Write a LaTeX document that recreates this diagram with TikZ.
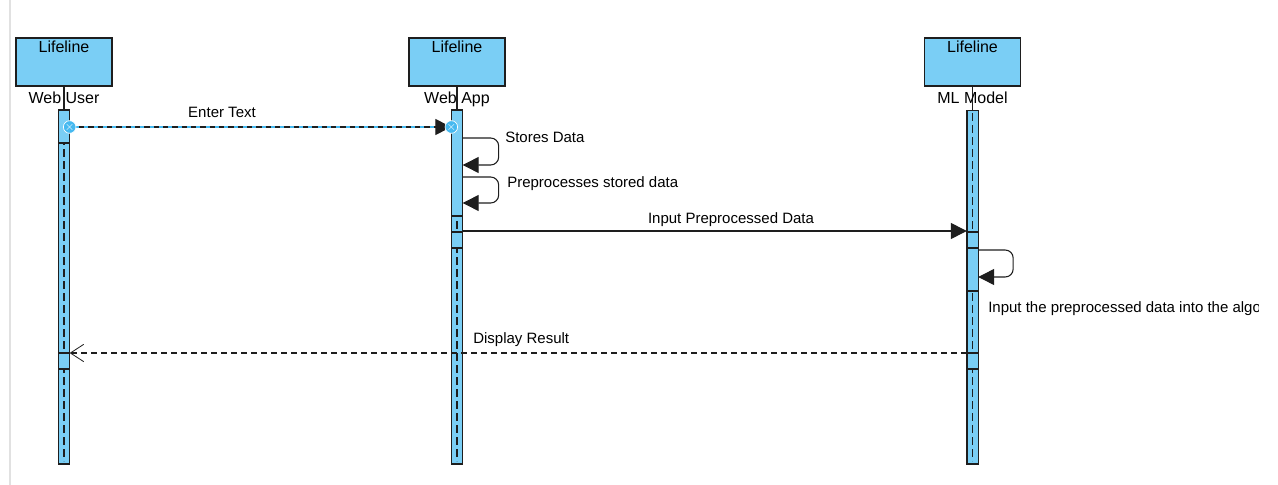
\documentclass[tikz,border=0pt]{standalone}
\usepackage{fontspec}
\setmainfont{Liberation Sans}
\usetikzlibrary{arrows.meta, positioning, calc}
\definecolor{lifeblue}{RGB}{122,206,245}
\definecolor{selblue}{RGB}{70,185,240}
\definecolor{framegray}{RGB}{225,225,225}
\definecolor{linegray}{RGB}{30,30,30}

\begin{document}
\begin{tikzpicture}[
  x=0.75pt, y=-0.75pt,
  head/.style={draw=linegray, fill=lifeblue, line width=1pt,
               minimum width=72pt, minimum height=36pt, inner sep=0pt},
  headtxt/.style={font=\fontsize{12}{14}\selectfont, inner sep=2.5pt},
  bar/.style={draw=linegray, fill=lifeblue, line width=1pt, outer sep=0pt,
              minimum width=8.5pt, minimum height=265pt, inner sep=0pt},
  act/.style={draw=linegray, fill=lifeblue, line width=1pt},
  life/.style={linegray, line width=1pt, dash pattern=on 6pt off 3pt},
  msg/.style={linegray, line width=0.8pt, -{Triangle[length=12pt,width=12pt]}},
  reply/.style={linegray, line width=0.8pt, dash pattern=on 4.5pt off 3pt,
                -{Straight Barb[length=10pt,width=13pt,line width=0.6pt]}},
  sel/.style={circle, fill=selblue, draw=white, line width=0.5pt, inner sep=0pt,
              minimum size=9pt, font=\fontsize{9}{9}\selectfont\bfseries, text=white},
  lbl/.style={font=\fontsize{11.25}{13}\selectfont, inner sep=0pt},
]
\useasboundingbox (0,0) rectangle (1278,485);

%% frame edge
\draw[framegray, line width=1.5pt] (10,0) -- (10,485);

%% Lifeline heads
\node[head, label={[headtxt, anchor=north]north:Lifeline}] (user)  at (64,62)    {};
\node[head, label={[headtxt, anchor=north]north:Lifeline}] (app)   at (457,62)   {};
\node[head, label={[headtxt, anchor=north]north:Lifeline}] (model) at (972.5,62) {};

%% Lifeline bars
\node[bar, below=18pt of user]  (userbar)  {};
\node[bar, below=18pt of app]   (appbar)   {};
\node[bar, below=18pt of model] (modelbar) {};

\foreach \n in {user, app, model} {
  \draw[linegray, line width=0.8pt] (\n) -- (\n bar);
  \draw[life] ([yshift=-2pt]\n bar.north) -- ([yshift=2pt]\n bar.south);
}

%% Names
\node[headtxt, below=1.5pt of user]  (username)  {Web User};
\node[headtxt, below=1.5pt of app]   (appname)   {Web App};
\node[headtxt, below=1.5pt of model] (modelname) {ML Model};

%% Activations
\foreach \b/\t/\e in {userbar/110/143, userbar/353/369, appbar/110/216,
                      appbar/232/248, modelbar/232/248, modelbar/248/291,
                      modelbar/353/369}
  \draw[act] (\b.west |- 0,\t) rectangle (\b.east |- 0,\e);

%% Message points
\coordinate (u1) at (userbar.east |- 0,127);
\coordinate (a1) at (appbar.west |- 0,127);
\coordinate (a2) at (appbar.east |- 0,138);
\coordinate (a3) at (appbar.east |- 0,165);
\coordinate (a4) at (appbar.east |- 0,177);
\coordinate (a5) at (appbar.east |- 0,203);
\coordinate (a6) at (appbar.east |- 0,231);
\coordinate (m1) at (modelbar.west |- 0,231);
\coordinate (m2) at (modelbar.east |- 0,250);
\coordinate (m3) at (modelbar.east |- 0,277);
\coordinate (m4) at (modelbar.west |- 0,353);
\coordinate (u2) at (userbar.east |- 0,353);

%% Arrows
\draw[selblue, line width=1.4pt] (u1) -- ([xshift=-2pt]a1);
\draw[msg, dash pattern=on 4pt off 3pt] (u1) -- (a1);
\node[sel] at (u1) {$\times$};
\node[sel] at (a1) {$\times$};
\draw[msg, rounded corners=6pt] (a2) -| ($(a3)+(36,0)$) -- (a3);
\draw[msg, rounded corners=6pt] (a4) -| ($(a5)+(36,0)$) -- (a5);
\draw[msg] (a6) -- (m1);
\draw[msg, rounded corners=6pt] (m2) -| ($(m3)+(35,0)$) -- (m3);
\draw[reply] (m4) -- (u2);

%% Labels
\node[lbl] at (222,112) {Enter Text};
\node[lbl, anchor=west] at (505,137) {Stores Data};
\node[lbl, anchor=west] at (507,184) {Preprocesses stored data};
\node[lbl] at (731,220) {Input Preprocessed Data};
\begin{scope}
  \clip (0,0) rectangle (1258,485);
  \node[lbl, anchor=west] at (988,309) {Input the preprocessed data into the algorithm};
\end{scope}
\node[lbl, anchor=west] at (473,340) {Display Result};

\end{tikzpicture}
\end{document}
